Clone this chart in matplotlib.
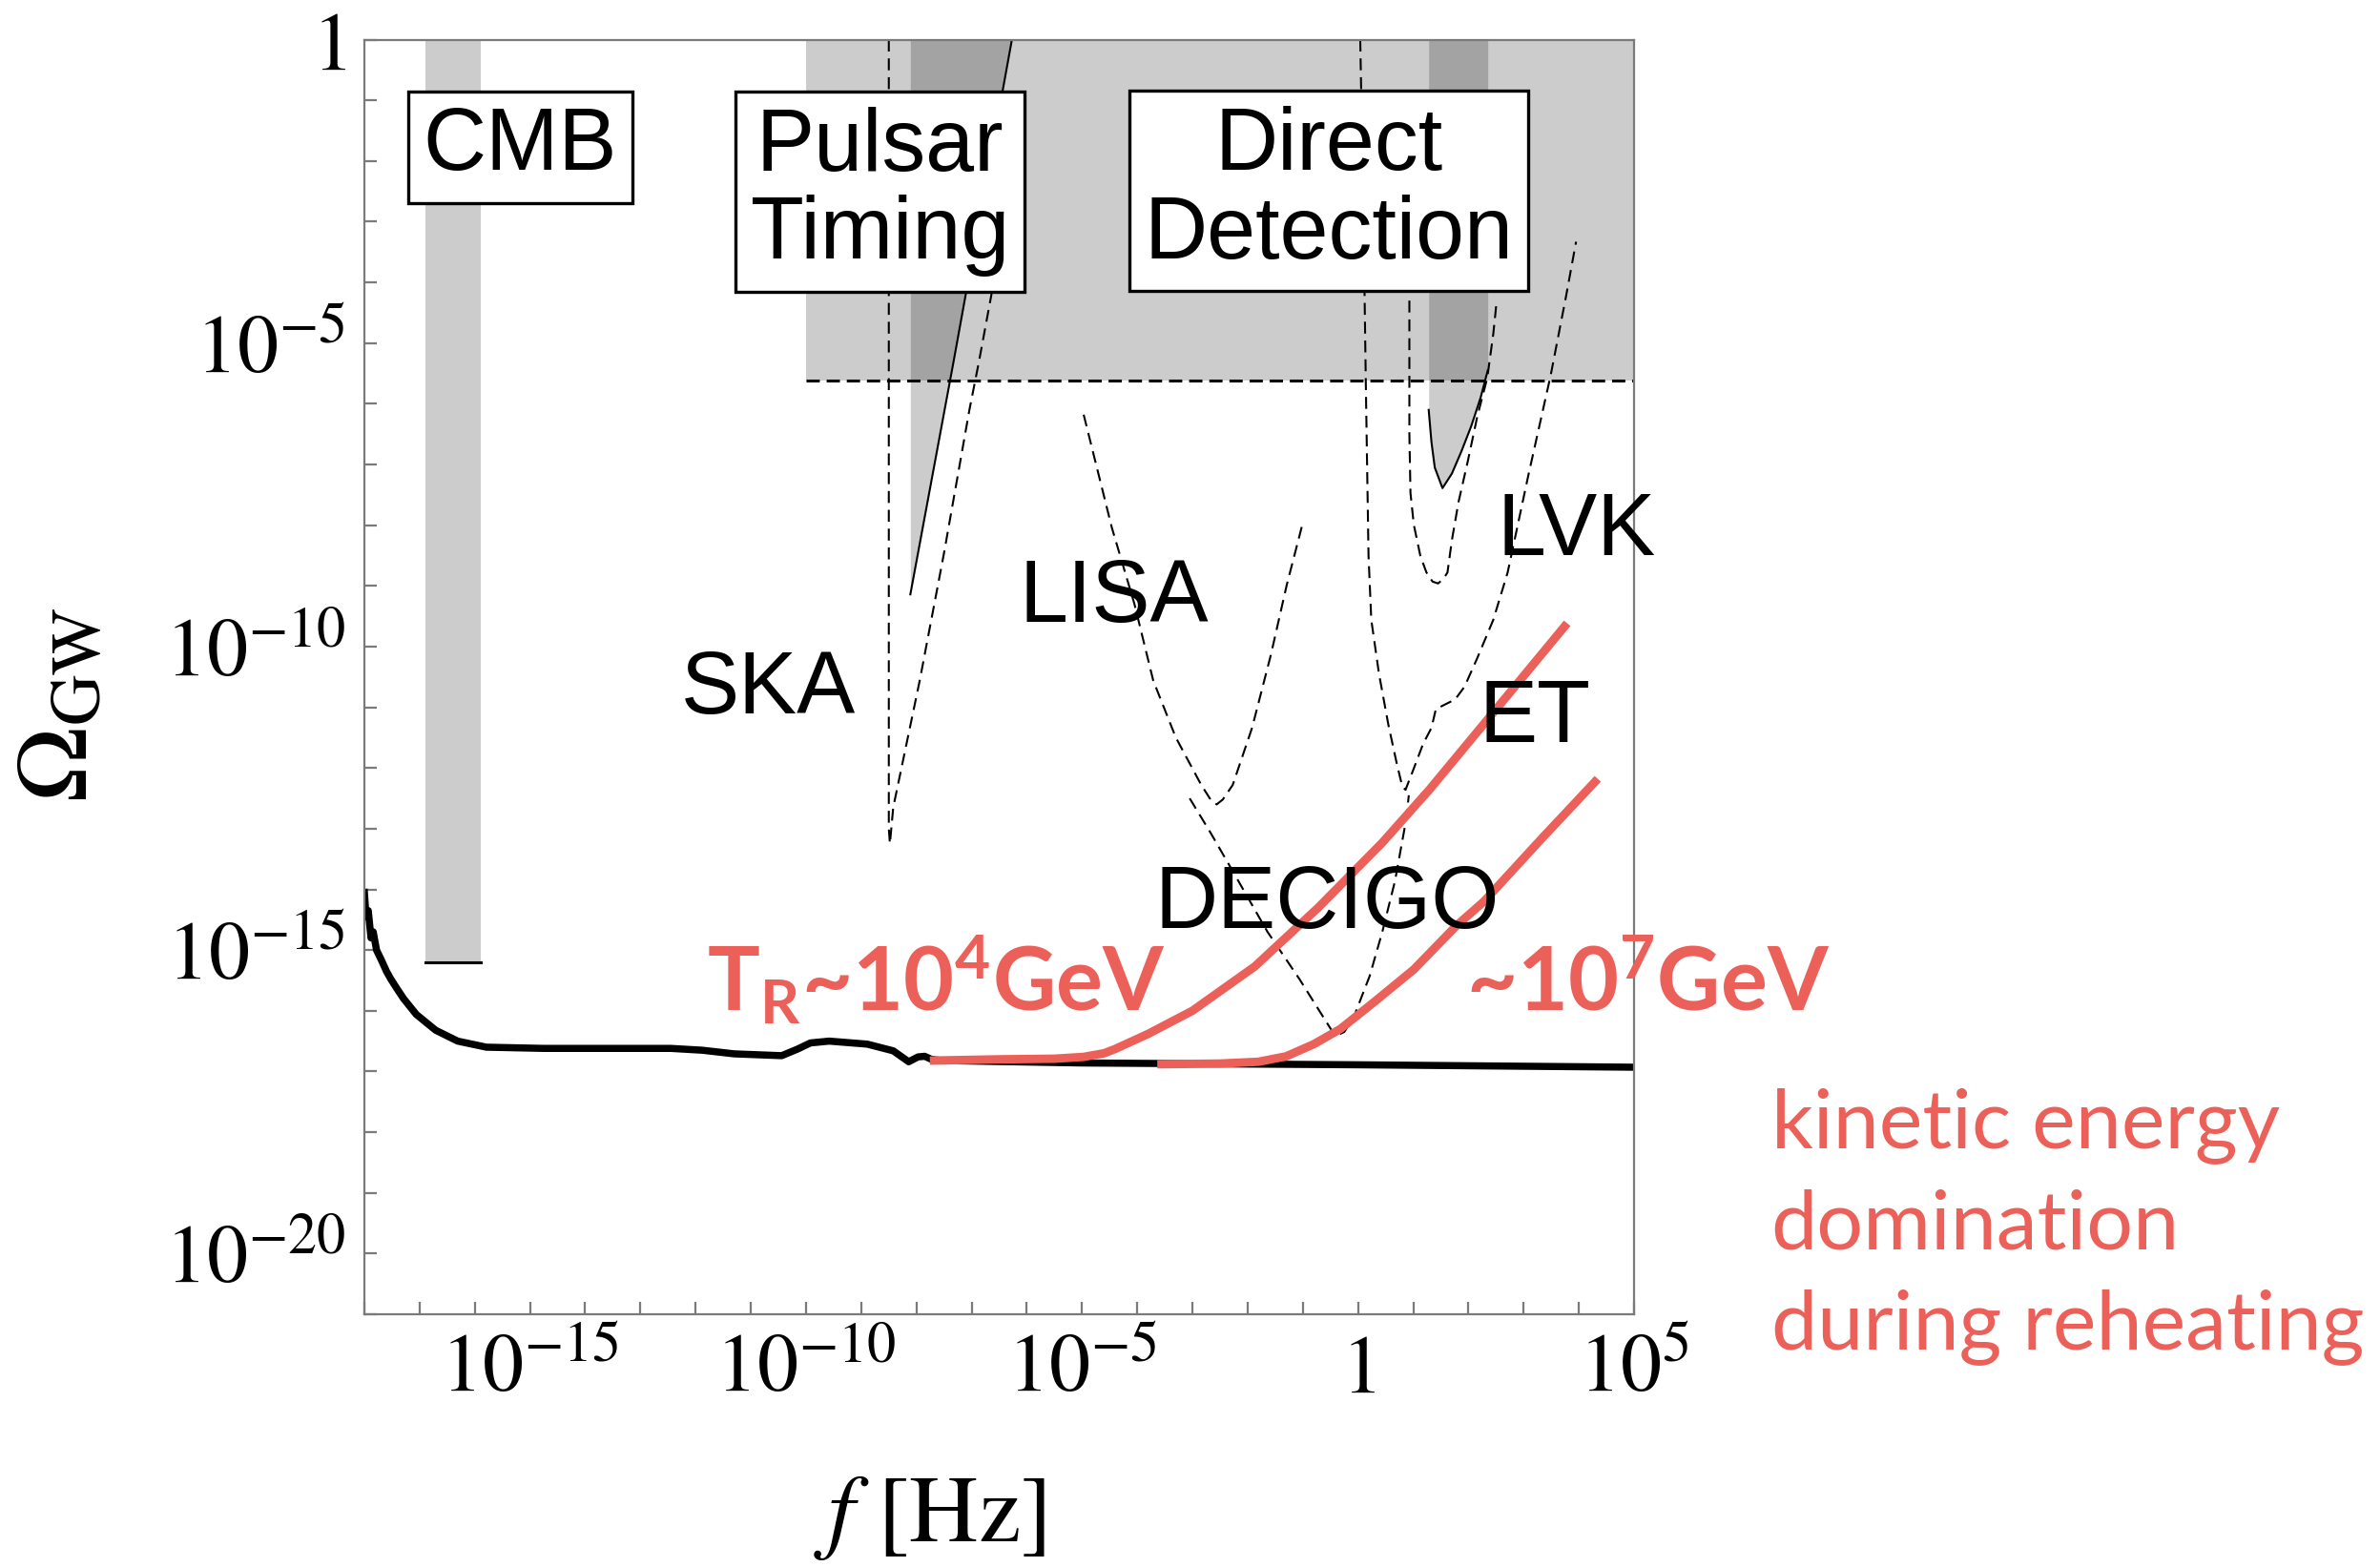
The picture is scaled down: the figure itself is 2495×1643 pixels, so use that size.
import numpy as np
import matplotlib
matplotlib.use("Agg")
import matplotlib.pyplot as plt

plt.rcParams["mathtext.fontset"] = "stix"
plt.rcParams["lines.scale_dashes"] = False
plt.rcParams["font.family"] = ["Liberation Sans", "DejaVu Sans"]
# mathtext for the red labels (Gill Sans look-alike)
plt.rcParams["mathtext.rm"] = "Lato:bold"
plt.rcParams["mathtext.bf"] = "Lato:bold"
plt.rcParams["mathtext.it"] = "Lato:bold:italic"

# all values are log10: (log10 f [Hz], log10 Omega_GW)
inflation_logf = [-18.0, -17.97, -17.93, -17.88, -17.84, -17.78, -17.69, -17.6, -17.52, -17.4,
                  -17.29, -17.06, -16.71, -16.31, -15.79, -14.75, -12.45, -11.88, -11.30, -10.44,
                  -10.15, -9.92, -9.58, -8.89, -8.42, -8.14, -7.97, -7.85, -7.73, -7.56,
                  -5.0, 0.0, 5.0]
inflation_logO = [-14.05, -14.45, -14.35, -14.8, -14.7, -15.0, -15.17, -15.35, -15.48, -15.65,
                  -15.80, -16.06, -16.32, -16.50, -16.60, -16.62, -16.62, -16.65, -16.71, -16.74,
                  -16.63, -16.53, -16.50, -16.55, -16.66, -16.84, -16.76, -16.75, -16.80, -16.82,
                  -16.86, -16.89, -16.93]

# kination spectra for two reheating temperatures
kd4_logf = [-7.68, -6.5, -5.5, -4.97, -4.6, -4.4, -3.8, -3.0, -1.87, -0.72, 0.44, 1.30, 2.74, 3.74]
kd4_logO = [-16.82, -16.80, -16.79, -16.76, -16.70, -16.63, -16.38, -16.0, -15.27, -14.3, -13.23,
            -12.35, -10.77, -9.67]
kd7_logf = [-3.56, -2.5, -1.8, -1.3, -0.8, -0.32, 0.3, 1.01, 1.78, 2.28, 3.31, 4.29]
kd7_logO = [-16.88, -16.87, -16.84, -16.75, -16.55, -16.30, -15.85, -15.32, -14.6, -14.2,
            -13.18, -12.23]

# sensitivity curves (dashed)
ska_logf = [-8.50, -8.50, -8.48, -8.42, -7.94, -7.50, -7.04, -6.87, -6.6]
ska_logO = [0.0, -13.0, -13.25, -12.65, -10.56, -8.46, -6.10, -5.32, -4.0]
lisa_logf = [-4.97, -4.46, -4.05, -3.71, -3.30, -2.84, -2.65, -2.56, -2.45, -2.27, -1.92, -1.58,
             -1.29, -1.00]
lisa_logO = [-6.18, -8.04, -9.30, -10.56, -11.50, -12.28, -12.55, -12.60, -12.52, -12.28, -11.34,
             -10.14, -8.98, -7.96]
decigo_logf = [-3.05, -2.67, -2.27, -1.64, -1.06, -0.48, -0.37, -0.25, -0.08, 0.21, 0.44, 0.67,
               0.87, 0.92]
decigo_logO = [-12.5, -13.07, -13.70, -14.70, -15.48, -16.32, -16.40, -16.35, -16.11, -15.43,
               -14.70, -13.86, -12.86, -12.45]
et_logf = [0.04, 0.10, 0.14, 0.19, 0.24, 0.38, 0.55, 0.70, 0.80, 0.86, 0.98, 1.18, 1.33, 1.41,
           1.76, 1.93, 2.16, 2.45, 2.71, 3.08, 3.49, 3.77, 3.95]
et_logO = [0.0, -3.0, -5.6, -8.5, -9.56, -10.45, -11.29, -11.92, -12.3, -12.36, -12.08, -11.60,
           -11.34, -11.03, -10.87, -10.66, -10.19, -9.56, -8.78, -7.20, -5.53, -4.22, -3.33]
lvk_logf = [0.93, 0.93, 0.95, 1.01, 1.13, 1.24, 1.35, 1.45, 1.55, 1.62, 1.70, 1.82, 1.99, 2.16,
            2.34, 2.45, 2.51]
lvk_logO = [-4.3, -6.5, -7.47, -7.99, -8.51, -8.78, -8.93, -8.96, -8.88, -8.78, -8.25, -7.62,
            -6.94, -6.21, -5.58, -4.85, -4.32]

# existing bounds (shaded)
cmb_logf = [-16.9, -15.9]
cmb_logO = -15.2
direct_logf = [-10.0, 5.0]
direct_logO = -5.62
pta_logf = [-8.11, -7.33, -6.27, -6.20]
pta_logO = [-9.14, -5.32, 0.0, 0.35]
o3_logf = [1.28, 1.33, 1.39, 1.53, 1.70, 1.87, 2.05, 2.22, 2.35]
o3_logO = [-6.10, -6.63, -7.05, -7.39, -7.15, -6.79, -6.37, -5.90, -5.45]

xticks = [1e-15, 1e-10, 1e-5, 1.0, 1e5]
xtick_labels = [r"$10^{-15}$", r"$10^{-10}$", r"$10^{-5}$", r"$1$", r"$10^{5}$"]
yticks = [1e-20, 1e-15, 1e-10, 1e-5, 1.0]
ytick_labels = [r"$10^{-20}$", r"$10^{-15}$", r"$10^{-10}$", r"$10^{-5}$", r"$1$"]


def pw(a):
    return 10.0 ** np.asarray(a, dtype=float)


red = "#EC605A"
gray_edge = "#7a7a7a"

fig = plt.figure(figsize=(2495 / 200, 1643 / 200), dpi=200)
ax = fig.add_axes([382 / 2495, (1643 - 1378) / 1643, 1331 / 2495, 1336.5 / 1643])
ax.set_xscale("log")
ax.set_yscale("log")
ax.set_xlim(1e-18, 1e5)
ax.set_ylim(1e-21, 1.0)

# shaded constraint regions (overlaps become darker)
shade = dict(color="k", alpha=0.2, linewidth=0)
ax.fill_between(pw(cmb_logf), 10 ** cmb_logO, 10.0, **shade)
ax.plot(pw(cmb_logf), [10 ** cmb_logO] * 2, color="k", lw=1.1)
ax.fill_between(pw(direct_logf), 10 ** direct_logO, 10.0, **shade)
ax.fill_between(pw(pta_logf), pw(pta_logO), 10.0, **shade)
ax.fill_between(pw(o3_logf), pw(o3_logO), 10.0, **shade)

# sensitivity curves
dash = dict(color="k", lw=0.75, dashes=(4.5, 2.6))
for lf, lo in [(ska_logf, ska_logO), (lisa_logf, lisa_logO), (decigo_logf, decigo_logO),
               (et_logf, et_logO), (lvk_logf, lvk_logO)]:
    ax.plot(pw(lf), pw(lo), **dash)
ax.plot(pw(direct_logf), [10 ** direct_logO] * 2, color="k", lw=1.1, dashes=(5, 2.6))

# solid bound lines
ax.plot(pw(pta_logf), pw(pta_logO), color="k", lw=0.75)
ax.plot(pw(o3_logf), pw(o3_logO), color="k", lw=0.75)

# spectra
ax.plot(pw(inflation_logf), pw(inflation_logO), color="k", lw=2.7, solid_joinstyle="round")
ax.plot(pw(kd4_logf), pw(kd4_logO), color=red, lw=3.2)
ax.plot(pw(kd7_logf), pw(kd7_logO), color=red, lw=3.2)

# ticks
ax.set_xticks(xticks)
ax.set_xticklabels(xtick_labels)
ax.set_yticks(yticks)
ax.set_yticklabels(ytick_labels)
ax.set_xticks(pw(np.arange(-18, 6)), minor=True)
ax.set_yticks(pw(np.arange(-21, 1)), minor=True)
ax.xaxis.set_minor_formatter(plt.NullFormatter())
ax.yaxis.set_minor_formatter(plt.NullFormatter())
ax.tick_params(which="both", direction="in", length=4.6, width=0.8, color=gray_edge,
               labelsize=31, pad=7)
for sp in ax.spines.values():
    sp.set_color(gray_edge)
    sp.set_linewidth(0.8)

ax.set_ylabel(r"$\Omega_{\mathrm{GW}}$", fontsize=38)
ax.yaxis.label.set_va("center")
ax.yaxis.set_label_coords(-0.239, 0.478)
ax.set_xlabel(r"$f\ [\mathrm{Hz}]$", fontsize=36)
ax.xaxis.label.set_va("center")
ax.xaxis.set_label_coords(0.445, -0.159)
for t in [ax.xaxis.label, ax.yaxis.label] + ax.get_xticklabels() + ax.get_yticklabels():
    t.set_math_fontfamily("stix")

# boxed region labels
box = dict(boxstyle="square,pad=0.17", facecolor="white", edgecolor="k", linewidth=1.2)
for x, y, s in [(0.1228, 0.9157, "CMB"), (0.4061, 0.8807, "Pulsar\nTiming"),
                (0.7596, 0.8811, "Direct\nDetection")]:
    ax.text(x, y, s, transform=ax.transAxes, ha="center", va="center", fontsize=33,
            linespacing=1.1, multialignment="center", bbox=box, zorder=10)

for x, y, s in [(0.3178, 0.4895, "SKA"), (0.5905, 0.5614, "LISA"), (0.9547, 0.6132, "LVK"),
                (0.9219, 0.4671, "ET"), (0.7586, 0.3211, "DECIGO")]:
    ax.text(x, y, s, transform=ax.transAxes, ha="center", va="center", fontsize=33, zorder=9)

# red annotations
ax.text(0.2697, 0.238, r"T$_{\mathrm{R}}$~10$^{4}$GeV", transform=ax.transAxes, ha="left",
        va="baseline", fontsize=33, color=red, family="Lato", weight="bold",
        math_fontfamily="custom", zorder=9)
ax.text(0.8678, 0.238, r"~10$^{7}$GeV", transform=ax.transAxes, ha="left", va="baseline",
        fontsize=33, color=red, family="Lato", weight="bold", math_fontfamily="custom", zorder=9)
ax.text(1.108, 0.178, "kinetic energy\ndomination\nduring reheating", transform=ax.transAxes,
        ha="left", va="top", fontsize=31, color=red, family="Lato", linespacing=1.42)

fig.savefig("out.png", dpi=200)
